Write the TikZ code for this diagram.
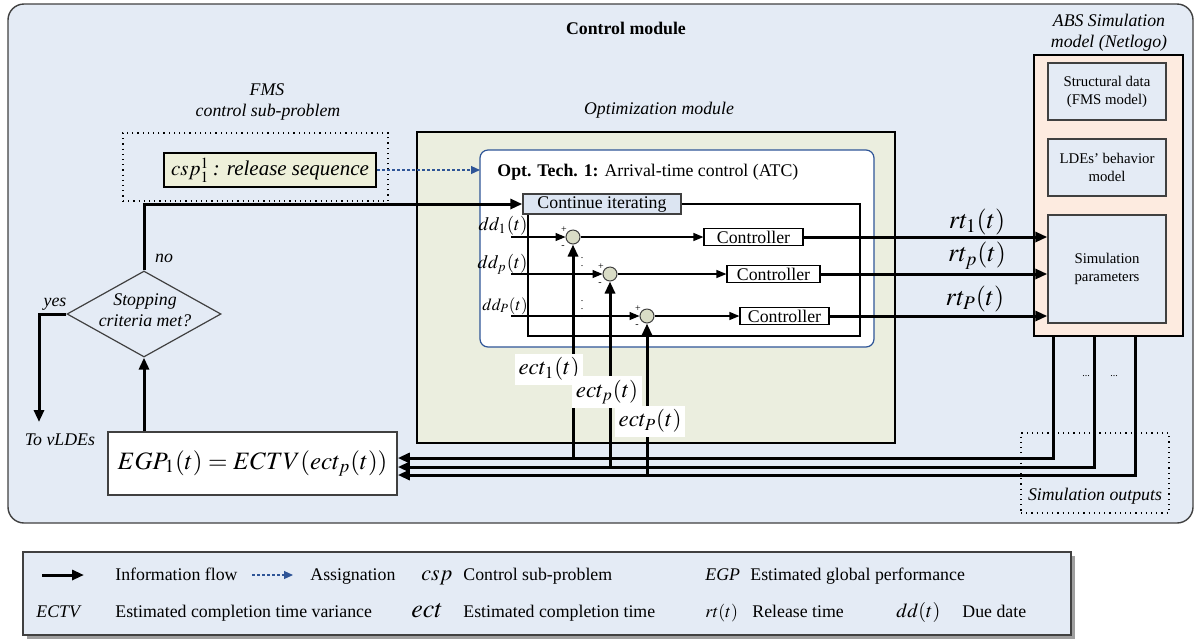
\documentclass[tikz,border=0pt]{standalone}
\usepackage{mathptmx}
\usepackage[no-math]{fontspec}
\setmainfont{Liberation Serif}
\usetikzlibrary{shapes.geometric,positioning,fit,arrows.meta,calc}
\definecolor{ctrlbg}{HTML}{E4EBF5}
\definecolor{optbg}{HTML}{EBEEDF}
\definecolor{cspbg}{HTML}{EEF0DA}
\definecolor{absbg}{HTML}{FDEBE0}
\definecolor{sumbg}{HTML}{D9DCC6}
\definecolor{contbg}{HTML}{DCE5F2}
\definecolor{asgblue}{HTML}{2F5597}
\definecolor{edge}{HTML}{404040}
\tikzset{
  % Rahmen ohne Text: ueber fit auf Pixelkoordinaten gesetzt
  area/.style={inner sep=0pt, outer sep=0pt},
  fnorm/.style={font=\fontsize{8.9}{10.7}\selectfont},
  fital/.style={font=\fontsize{8.9}{10.7}\selectfont\itshape},
  fsmall/.style={font=\fontsize{7.4}{9}\selectfont},
  fbig/.style={font=\fontsize{13}{15}\selectfont},
  ftiny/.style={font=\fontsize{5}{6}\selectfont, inner sep=0pt},
  lg/.style={anchor=base west, inner sep=0pt},
  subbox/.style={draw=edge, fill=ctrlbg, line width=0.7pt, fsmall, align=center,
    inner sep=0pt, minimum width=59pt},
  ctlbox/.style={draw=black, fill=white, line width=0.6pt, fnorm, inner sep=0pt,
    text height=6pt, text depth=0pt},
  sumpt/.style={circle, draw=edge, fill=sumbg, minimum size=7pt, inner sep=0pt, line width=0.5pt},
  dia/.style={diamond, draw=edge, line width=0.6pt, minimum width=77pt, minimum height=43pt, inner sep=0pt},
  ectlbl/.style={fill=white, inner sep=2pt, font=\fontsize{11.5}{13}\selectfont},
  % Verbindungen
  flow/.style={line width=1.5pt, -{Triangle[length=6pt,width=5pt]}},
  thinflow/.style={line width=0.65pt, -{Triangle[length=5pt,width=4pt]}},
  loopln/.style={line width=0.65pt},
  asgn/.style={draw=asgblue, line width=0.6pt, dash pattern=on 1.5pt off 1pt,
    -{Triangle[length=4.5pt,width=4pt]}},
}

\begin{document}
\begin{tikzpicture}[x=0.5pt,y=-0.5pt]
\useasboundingbox (0,0) rectangle (1201,639);

% ----- Control module -----
\node[area, draw=edge, fill=ctrlbg, rounded corners=8pt, line width=0.7pt,
  fit={(8,4) (1193,523)}] (ctrl) {};
\node[font=\fontsize{8.9}{10.7}\selectfont\bfseries] (ctrlttl) at (626,28) {Control module};

% ----- FMS control sub-problem -----
\node[fital] (fmsttl) at (267,90) {FMS};
\node[fital] (fmssub) at (268,112) {control sub-problem};
\node[area, draw=black, dotted, line width=0.6pt, fit={(123,133) (388,201)}] (fmsbox) {};
\node[draw=black, fill=cspbg, line width=1.1pt, inner sep=0pt, minimum width=106pt,
  minimum height=17pt, font=\fontsize{10.5}{12}\selectfont] (csp) at (270,170)
  {$csp_1^1$\,\textit{: release sequence}};

% ----- Optimization module -----
\node[area, draw=black, fill=optbg, line width=1.1pt, fit={(417,132) (895,443)}] (optmod) {};
\node[fital] (optttl) at (659,110) {Optimization module};
\node[area, draw=asgblue, fill=white, rounded corners=4pt, line width=0.6pt,
  fit={(480,150) (874,347)}] (tech) {};
\node[fnorm, lg] (techttl) at (497,176) {\textbf{Opt. Tech. 1:} Arrival-time control (ATC)};
\node[draw=edge, fill=contbg, line width=0.7pt, fnorm, inner sep=0pt, minimum width=79pt,
  minimum height=10pt, text height=6.2pt, text depth=1.8pt] (cont) at (602,204) {Continue iterating};

% Regelkreise
\node[sumpt] (s1) at (573,237) {};
\node[sumpt] (s2) at (610,274) {};
\node[sumpt] (s3) at (647,316) {};
\node[ctlbox, minimum width=49.5pt, minimum height=8.5pt] (c1) at (753.5,237) {Controller};
\node[ctlbox, minimum width=46.5pt, minimum height=8.5pt] (c2) at (773.5,274) {Controller};
\node[ctlbox, minimum width=44.5pt, minimum height=8.5pt] (c3) at (784.5,316) {Controller};
\node[font=\fontsize{9.5}{11}\selectfont, anchor=east, inner sep=0pt] (dd1) at (528,226) {$dd_1(t)$};
\node[font=\fontsize{9.5}{11}\selectfont, anchor=east, inner sep=0pt] (ddp) at (528,264) {$dd_p(t)$};
\node[font=\fontsize{8.5}{10}\selectfont, anchor=east, inner sep=0pt] (ddP) at (528,306) {$dd_P(t)$};
\coordinate (in1) at (511,237);
\coordinate (in2) at (511,274);
\coordinate (in3) at (511,316);
\coordinate (loopne) at (860,204);
\coordinate (loopsw) at (528,336);
\draw[loopln] (cont.east) -- (loopne) |- (loopsw) -- (loopsw |- cont.south);
\draw[thinflow] (in1) -- (s1.west);
\draw[thinflow] (in2) -- (s2.west);
\draw[thinflow] (in3) -- (s3.west);
\draw[thinflow] (s1.east) -- (c1.west);
\draw[thinflow] (s2.east) -- (c2.west);
\draw[thinflow] (s3.east) -- (c3.west);
\foreach \s in {s1,s2,s3}{
  \node[ftiny] (\s p) at ($(\s)+(-9,-7)$) {+};
  \node[ftiny] (\s m) at ($(\s)+(-10,10)$) {-};
}
\node[ftiny] (vd1) at (582,260) {$\vdots$};
\node[ftiny] (vd2) at (582,303) {$\vdots$};

% ----- ABS Simulation model -----
\node[fital, align=center] (absttl) at (1109,33) {ABS Simulation\\model (Netlogo)};
\node[area, draw=black, fill=absbg, line width=1.1pt, fit={(1034,55) (1183,336)}] (abs) {};
\node[subbox, minimum height=28.5pt] (struct) at (1107,91.5) {Structural data\\(FMS model)};
\node[subbox, minimum height=28.5pt] (ldes) at (1107,167.5) {LDEs' behavior\\model};
\node[subbox, minimum height=54pt] (simpar) at (1107,269) {Simulation\\parameters};

% Release times
\draw[flow] (c1.east) -- (c1.east -| simpar.west);
\draw[flow] (c2.east) -- (c2.east -| simpar.west);
\draw[flow] (c3.east) -- (c3.east -| simpar.west);
\node[fbig] (rt1) at (977,222) {$rt_1(t)$};
\node[fbig] (rtp) at (977,256) {$rt_p(t)$};
\node[fbig] (rtP) at (975,299) {$rt_P(t)$};

% ----- Stopping criterion and EGP -----
\node[draw=edge, fill=white, line width=0.8pt, inner sep=0pt, minimum width=144.5pt,
  minimum height=31.5pt, font=\fontsize{12.5}{14}\selectfont] (egp) at (252.5,463.5)
  {$EGP_1(t) = ECTV(ect_p(t))$};
\node[dia] (stop) at (144,314) {};
\node[fital, align=center] (stoplbl) at (145,310) {Stopping\\criteria met?};
\node[fital] (no) at (164,258) {no};
\node[fital] (yes) at (55,304) {yes};
\node[fital] (tovl) at (60,440) {To vLDEs};
\coordinate (yesend) at (39,422);
\draw[flow] (stop.south |- egp.north) -- (stop.south);
\draw[flow] (stop.north) |- (cont.west);
\draw[flow] (stop.west) -| (yesend);
\draw[asgn] (csp.east) -- (csp.east -| tech.west);

% ----- Simulation outputs back to EGP -----
\node[area, draw=black, dotted, line width=0.6pt, fit={(1021,433) (1169,513)}] (simout) {};
\node[fital] (simoutlbl) at (1095,496) {Simulation outputs};
\coordinate (b1) at (1053,458);
\coordinate (b2) at (1094,467);
\coordinate (b3) at (1135,475);
\draw[flow] (b1 |- abs.south) -- (b1) -- (b1 -| egp.east);
\draw[flow] (b2 |- abs.south) -- (b2) -- (b2 -| egp.east);
\draw[flow] (b3 |- abs.south) -- (b3) -- (b3 -| egp.east);
\node[ftiny] (dots1) at (1086,376) {...};
\node[ftiny] (dots2) at (1114,376) {...};
\draw[flow] (s1 |- b1) -- (s1.south);
\draw[flow] (s2 |- b2) -- (s2.south);
\draw[flow] (s3 |- b3) -- (s3.south);
\node[ectlbl] (ect1) at (549,369) {$ect_1(t)$};
\node[ectlbl] (ectp) at (607,392) {$ect_p(t)$};
\node[ectlbl] (ectP) at (650,421) {$ect_P(t)$};

% ----- Legende -----
\node[area, fill=gray!75, fit={(27,556) (1075,639)}] (lgshadow) {};
\node[area, draw=edge, fill=ctrlbg, line width=0.6pt, fit={(23,552) (1071,635)}] (legend) {};
\coordinate (lgfa) at (42,575);
\coordinate (lgfb) at (84,575);
\draw[flow] (lgfa) -- (lgfb);
\node[fnorm, lg] (lginfo) at (115,580) {Information flow};
\coordinate (lgaa) at (252,575);
\coordinate (lgab) at (293,575);
\draw[asgn] (lgaa) -- (lgab);
\node[fnorm, lg] (lgasg) at (310,580) {Assignation};
\node[font=\fontsize{11}{13}\selectfont, lg] (lgcsp) at (421,580) {$csp$};
\node[fnorm, lg] (lgcspt) at (463,580) {Control sub-problem};
\node[fital, lg] (lgegp) at (705,580) {EGP};
\node[fnorm, lg] (lgegpt) at (750,580) {Estimated global performance};
\node[fital, lg] (lgectv) at (36,617) {ECTV};
\node[fnorm, lg] (lgectvt) at (115,617) {Estimated completion time variance};
\node[font=\fontsize{13}{15}\selectfont, lg] (lgect) at (411,617) {$ect$};
\node[fnorm, lg] (lgectt) at (463,617) {Estimated completion time};
\node[fnorm, lg] (lgrt) at (705,617) {$rt(t)$};
\node[fnorm, lg] (lgrtt) at (752,617) {Release time};
\node[font=\fontsize{10}{12}\selectfont, lg] (lgdd) at (896,617) {$dd(t)$};
\node[fnorm, lg] (lgddt) at (962,617) {Due date};

\end{tikzpicture}
\end{document}
